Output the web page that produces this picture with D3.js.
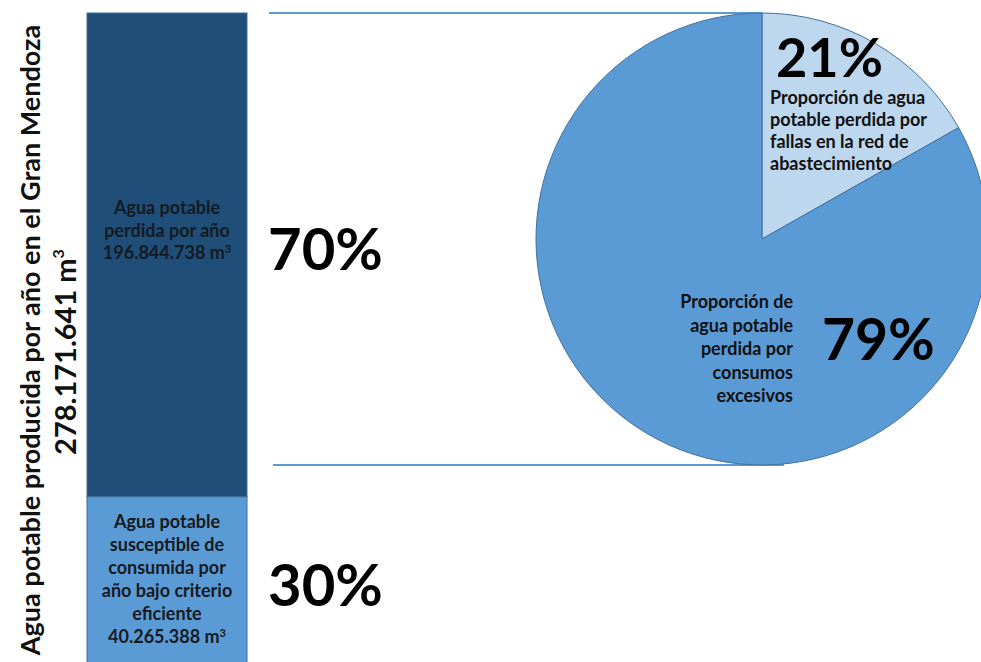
<!DOCTYPE html>
<html>
<head>
<meta charset="utf-8">
<script src="https://cdn.jsdelivr.net/npm/d3@7"></script>
<style>
  body { margin: 0; background: #fff; overflow: hidden; }
  text { font-family: Lato, "Open Sans", sans-serif; font-weight: bold; }
</style>
</head>
<body>
<svg id="chart" width="981" height="662"></svg>
<script>
// stacked bar (percent of produced water)
const barSegments = ["eficiente", "perdida"];
const barPercents = [30, 70];
const barLabels = [
  ["Agua potable", "susceptible de", "consumida por", "año bajo criterio", "eficiente", "40.265.388 m³"],
  ["Agua potable", "perdida por año", "196.844.738 m³"]
];
const barPctLabels = ["30%", "70%"];

// pie of the lost water (slice sizes as drawn)
const pieNames = ["fallas", "consumos"];
const pieValues = [16.8, 83.2];
const pieLabels = ["21%", "79%"];
const pieTexts = [
  ["Proporción de agua", "potable perdida por", "fallas en la red de", "abastecimiento"],
  ["Proporción de", "agua potable", "perdida por", "consumos", "excesivos"]
];

const titleLines = ["Agua potable producida por año en el Gran Mendoza", "278.171.641 m"];

const svg = d3.select("#chart");

const barX = 87, barW = 160, barTop = 13;
const y = d3.scaleLinear().domain([0, 100]).range([704, barTop]);

const stack = [];
let acc = 0;
barPercents.forEach((v, i) => { stack.push({ name: barSegments[i], y0: acc, y1: acc + v, i }); acc += v; });

const barColors = d3.scaleOrdinal().domain(barSegments).range(["#5b9bd5", "#1f4e79"]);

svg.selectAll("rect.seg")
  .data(stack)
  .enter().append("rect")
  .attr("class", "seg")
  .attr("x", barX)
  .attr("width", barW)
  .attr("y", d => y(d.y1))
  .attr("height", d => y(d.y0) - y(d.y1))
  .attr("fill", d => barColors(d.name))
  .attr("stroke", "#41719c")
  .attr("stroke-width", 1);

// bar labels
const barLabelY = [528, 214];
const barLabelStep = [23, 22.5];
stack.forEach((d, i) => {
  const t = svg.append("text")
    .attr("x", barX + barW / 2)
    .attr("y", barLabelY[i])
    .attr("text-anchor", "middle")
    .attr("font-size", 18)
    .attr("fill", "#161a22");
  barLabels[i].forEach((line, j) => {
    const ts = t.append("tspan").attr("x", barX + barW / 2).attr("dy", j === 0 ? 0 : barLabelStep[i]);
    if (line.endsWith("m³")) {
      ts.text(line.slice(0, -1));
      ts.append("tspan").attr("dy", -6).attr("font-size", 11).text("3");
      ts.append("tspan").attr("dy", 6).text("");
    } else ts.text(line);
  });
});

// percentage labels next to the bar
const pctBaseline = [606, 270];
barPctLabels.forEach((p, i) => {
  svg.append("text")
    .attr("x", 268)
    .attr("y", pctBaseline[i])
    .attr("font-size", 58)
    .attr("fill", "#000")
    .text(p);
});

// pie
const cx = 762, cy = 239, r = 226;

// connector lines
svg.append("line").attr("x1", 269).attr("x2", cx).attr("y1", cy - r).attr("y2", cy - r)
  .attr("stroke", "#5b9bd5").attr("stroke-width", 2);
svg.append("line").attr("x1", 273).attr("x2", cx + 22).attr("y1", cy + r).attr("y2", cy + r)
  .attr("stroke", "#5b9bd5").attr("stroke-width", 2);

const pie = d3.pie().sort(null).value(d => d);
const arc = d3.arc().innerRadius(0).outerRadius(r);
const pieColors = d3.scaleOrdinal().domain(pieNames).range(["#bdd7ee", "#5b9bd5"]);

const g = svg.append("g").attr("transform", `translate(${cx},${cy})`);
g.selectAll("path")
  .data(pie(pieValues))
  .enter().append("path")
  .attr("d", arc)
  .attr("fill", (d, i) => pieColors(pieNames[i]))
  .attr("stroke", "#41719c")
  .attr("stroke-width", 1);

// slice labels
svg.append("text").attr("x", 776).attr("y", 77).attr("font-size", 54).attr("fill", "#000").text(pieLabels[0]);
const t1 = svg.append("text").attr("x", 770).attr("y", 104).attr("font-size", 18).attr("fill", "#111");
pieTexts[0].forEach((line, j) => t1.append("tspan").attr("x", 770).attr("dy", j === 0 ? 0 : 22).text(line));

svg.append("text").attr("x", 822).attr("y", 360).attr("font-size", 57).attr("fill", "#000").text(pieLabels[1]);
const t2 = svg.append("text").attr("x", 793).attr("y", 308).attr("font-size", 18).attr("fill", "#111").attr("text-anchor", "end");
pieTexts[1].forEach((line, j) => t2.append("tspan").attr("x", 793).attr("dy", j === 0 ? 0 : 23.5).text(line));

// vertical title
const title = svg.append("g").attr("transform", "translate(0,340) rotate(-90)");
title.append("text").attr("x", 0).attr("y", 40).attr("text-anchor", "middle")
  .attr("font-size", 27).attr("fill", "#111").text(titleLines[0]);
const t3 = title.append("text").attr("x", -12).attr("y", 76).attr("text-anchor", "middle")
  .attr("font-size", 29).attr("fill", "#111");
t3.append("tspan").text(titleLines[1]);
t3.append("tspan").attr("dy", -12).attr("font-size", 16).text("3");
</script>
</body>
</html>
